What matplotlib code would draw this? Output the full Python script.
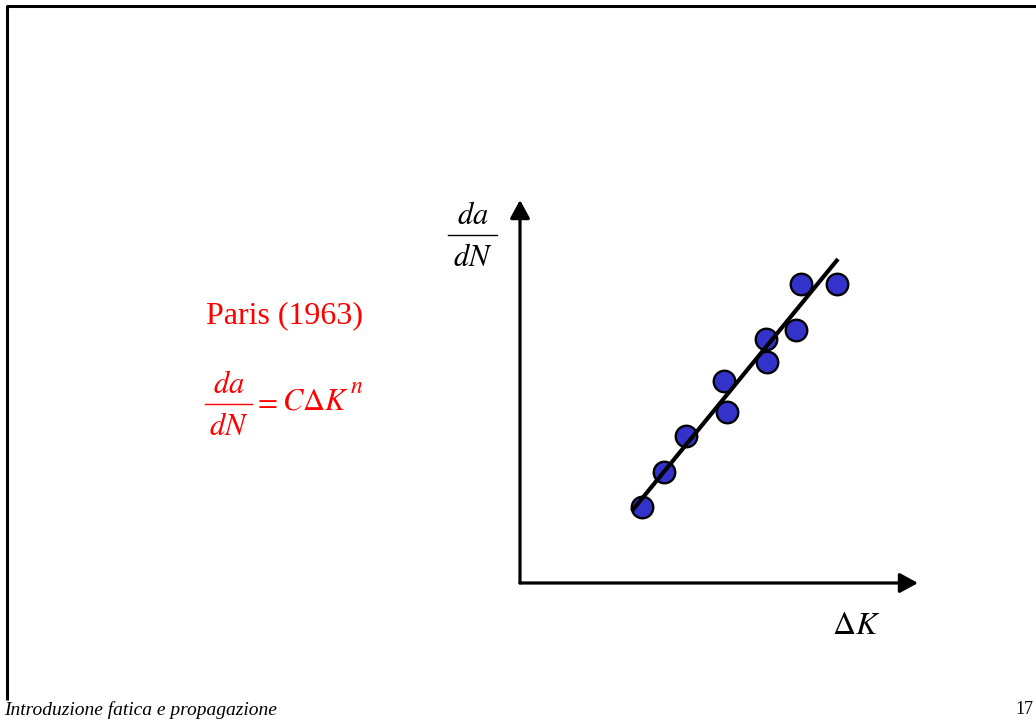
import numpy as np
import matplotlib
matplotlib.use("Agg")
import matplotlib.pyplot as plt

plt.rcParams['font.family'] = ['Liberation Serif', 'DejaVu Serif']
plt.rcParams['mathtext.fontset'] = 'stix'

# schematic data (arbitrary units, 0..10 on both axes)
dK = np.array([3.07, 3.62, 4.17, 5.20, 5.13, 6.21, 6.18, 6.93, 7.06, 7.96])
dadN = np.array([1.98, 2.90, 3.84, 4.46, 5.27, 5.77, 6.37, 6.61, 7.81, 7.81])
fit_x = np.array([2.81, 7.99])
fit_y = np.array([1.88, 8.46])

title_txt = "Paris (1963)"
footer_txt = "Introduzione fatica e propagazione"
page_no = "17"

W, H = 1036, 720
fig = plt.figure(figsize=(W / 100, H / 100), dpi=100)

# slide frame in pixel coordinates
bg = fig.add_axes([0, 0, 1, 1])
bg.set_xlim(0, W)
bg.set_ylim(H, 0)
bg.axis('off')
bg.plot([7, 7, W], [700, 6, 6], color='k', lw=2.2, solid_capstyle='butt')


def fraction(x0, x1, ybar, color, size):
    # da over dN with a horizontal bar, like the slide's equation editor
    xc = (x0 + x1) / 2
    bg.plot([x0, x1], [ybar, ybar], color=color, lw=1.0)
    bg.text(xc, ybar - 11, r'$da$', fontsize=size, color=color, ha='center', va='baseline')
    bg.text(xc, ybar + 31, r'$dN$', fontsize=size, color=color, ha='center', va='baseline')


# chart area: origin at (520, 583), ends at (918, 200)
ax = fig.add_axes([520 / W, 1 - 583 / H, 398 / W, 383 / H])
ax.set_xlim(0, 10)
ax.set_ylim(0, 10)
ax.axis('off')
arrow = dict(arrowstyle='-|>,head_length=0.55,head_width=0.3', color='k',
             lw=2.3, shrinkA=0, shrinkB=0, mutation_scale=20)
ax.annotate('', xy=(10, 0), xytext=(0, 0), arrowprops=arrow, annotation_clip=False)
ax.annotate('', xy=(0, 10), xytext=(0, 0), arrowprops=arrow, annotation_clip=False)

ax.plot(fit_x, fit_y, color='k', lw=3, zorder=3, solid_capstyle='butt')
ax.scatter(dK, dadN, s=240, c='#3333CC', edgecolors='k', linewidths=1.7, zorder=2)

# axis labels
fraction(448, 497, 235, 'black', 22)
bg.text(856, 626, r'$\Delta K$', fontsize=23, ha='center', va='center')

# Paris law
bg.text(284, 316, title_txt, fontsize=23, color='red', ha='center', va='center')
fraction(205, 252, 404, 'red', 22)
bg.text(278, 409, r'$=$', fontsize=21, color='red', ha='right', va='baseline')
bg.text(282, 409, r'$C\Delta K$', fontsize=22, color='red', ha='left', va='baseline')
bg.text(350, 393, r'$n$', fontsize=17, color='red', ha='left', va='baseline')

bg.text(4, 710, footer_txt, fontsize=14, style='italic', ha='left', va='center')
bg.text(1033, 710, page_no, fontsize=13, ha='right', va='center')

fig.savefig('out.png', dpi=100)
